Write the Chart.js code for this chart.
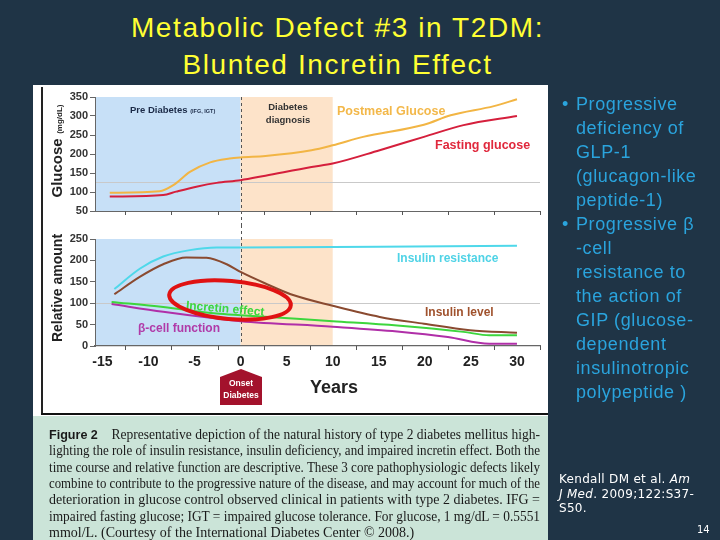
<!DOCTYPE html>
<html><head><meta charset="utf-8">
<script src="https://cdn.jsdelivr.net/npm/chart.js@4.4.0/dist/chart.umd.min.js"></script>
<style>
html,body{margin:0;padding:0;}
body{width:720px;height:540px;background:#1f3446;position:relative;overflow:hidden;font-family:"Liberation Sans",Arial,sans-serif;}
.abs{position:absolute;white-space:nowrap;}
.lbl{position:absolute;white-space:nowrap;font-weight:bold;transform:translateY(-50%);line-height:1;}
#title{position:absolute;left:0;top:9px;width:675px;text-align:center;color:#ffff33;font-size:28px;letter-spacing:1.6px;line-height:37px;}
#panel{position:absolute;left:33px;top:85px;width:515px;height:331px;background:#fff;}
#caption{position:absolute;left:33px;top:416px;width:515px;height:124px;background:#cbe4d8;overflow:hidden;}
.cl{position:absolute;left:16px;white-space:nowrap;font-family:"Liberation Serif","Times New Roman",serif;font-size:14px;color:#1a1a1a;line-height:16px;transform-origin:0 50%;}
.cl b{font-family:"Liberation Sans",Arial,sans-serif;font-size:13px;}
#bul{position:absolute;left:576px;top:92px;color:#2aa4dd;font-size:18px;letter-spacing:0.6px;line-height:24px;}
#bul div{position:relative;white-space:nowrap;}
#bul span.b{position:absolute;left:-14px;}
#cite{position:absolute;left:559px;top:472px;color:#fff;font-family:"DejaVu Sans",Verdana,sans-serif;font-size:12px;letter-spacing:0.3px;line-height:14.5px;}
canvas{position:absolute;}
</style></head><body>
<div id="title">Metabolic Defect #3 in T2DM:<br>Blunted Incretin Effect</div>
<div id="panel"></div>
<div class="abs" style="left:41px;top:87px;width:1.5px;height:327px;background:#222;"></div>
<div class="abs" style="left:41px;top:413px;width:507px;height:2px;background:#111;"></div>
<canvas id="top" width="515" height="140" style="left:33px;top:85px;width:515px;height:140px;"></canvas>
<canvas id="bot" width="515" height="188" style="left:33px;top:225px;width:515px;height:188px;"></canvas>

<!-- axis titles -->
<div class="abs" style="left:57px;top:151px;transform:translate(-50%,-50%) rotate(-90deg);font-weight:bold;color:#222;"><span style="font-size:15px;">Glucose</span> <span style="font-size:8px;">(mg/dL)</span></div>
<div class="abs" style="left:57px;top:288px;transform:translate(-50%,-50%) rotate(-90deg);font-weight:bold;color:#222;font-size:14px;">Relative amount</div>

<!-- top labels -->
<div class="lbl" style="left:130px;top:110px;font-size:9.5px;color:#1c2b48;">Pre Diabetes <span style="font-size:5.5px;">(IFG, IGT)</span></div>
<div class="lbl" style="left:288px;top:113px;font-size:9.5px;color:#333;text-align:center;transform:translate(-50%,-50%);line-height:13px;">Diabetes<br>diagnosis</div>
<div class="lbl" style="left:337px;top:111px;font-size:12.5px;color:#f3b84a;">Postmeal Glucose</div>
<div class="lbl" style="left:435px;top:145px;font-size:12.5px;color:#e0283c;">Fasting glucose</div>
<!-- bottom labels -->
<div class="lbl" style="left:397px;top:258px;font-size:12px;color:#4fd3e6;">Insulin resistance</div>
<div class="lbl" style="left:425px;top:312px;font-size:12px;color:#a0522d;">Insulin level</div>
<div class="lbl" style="left:186px;top:305px;font-size:12px;color:#3dd63d;transform:translateY(-50%) rotate(5deg);transform-origin:0 50%;">Incretin effect</div>
<div class="lbl" style="left:138px;top:328px;font-size:12px;color:#b03aa8;">β-cell function</div>
<div class="lbl" style="left:310px;top:387px;font-size:18px;color:#222;">Years</div>
<div class="abs" style="left:220px;top:369px;width:42px;height:36px;background:#a3122c;clip-path:polygon(50% 0,100% 22%,100% 100%,0 100%,0 22%);"></div>
<div class="abs" style="left:220px;top:377px;width:42px;text-align:center;color:#fff;font-weight:bold;font-size:8.5px;line-height:12px;">Onset<br>Diabetes</div>
<svg class="abs" style="left:0;top:0;" width="720" height="540"><ellipse cx="230" cy="300" rx="61" ry="19" fill="none" stroke="#e01212" stroke-width="4" transform="rotate(5 230 300)"/></svg>

<div id="caption"></div>
<div id="bul">
<div><span class="b">•</span>Progressive</div>
<div>deficiency of</div>
<div>GLP-1</div>
<div>(glucagon-like</div>
<div>peptide-1)</div>
<div><span class="b">•</span>Progressive β</div>
<div>-cell</div>
<div>resistance to</div>
<div>the action of</div>
<div>GIP (glucose-</div>
<div>dependent</div>
<div>insulinotropic</div>
<div>polypeptide )</div>
</div>
<div id="cite">Kendall DM et al. <i>Am</i><br><i>J Med</i>. 2009;122:S37-<br>S50.</div>
<div class="abs" style="left:697px;top:524px;color:#fff;font-family:'DejaVu Sans',sans-serif;font-size:10px;">14</div>

<script>
// ---- data ----
const xTickYears = [-15,-10,-5,0,5,10,15,20,25,30];
const tickMarkYears = [-12.5,-7.5,-2.5,2.5,7.5,12.5,17.5,22.5,27.5,32.5];
const phaseYears = [0, 10]; // diagnosis start / end of diagnosis window
const glucoseThreshold = 126;
const relativeBaseline = 100;

const postmealYears  = [-14.2,-8.8,-7.3,-5.5,-3.3,-1.2,0,2.7,7.7,10,13.3,19.9,22.8,27.5,30];
const postmealValues = [98,102,118,153,178,188,191,195,210,223,245,277,302,326,344];
const fastingYears   = [-14.2,-8.4,-7,-4.8,-2.6,0,2.7,7.7,10,15.1,19.9,24.2,30];
const fastingValues  = [88,92,101,114,124,131,143,166,175,210,245,276,300];

const resistanceYears  = [-13.7,-10.9,-8.4,-5.5,-2.6,0,15,30];
const resistanceValues = [133,181,209,224,230,230,232,234];
const insulinYears  = [-13.7,-10.9,-8.4,-5.9,-3.7,-1.5,0,2.7,5.7,10,15.1,19.9,24.9,30];
const insulinValues = [121,162,191,207,206,191,173,146,119,94,68,52,37,31];
const incretinYears  = [-14,-8.4,-2.6,0,10,17,24.2,27,30];
const incretinValues = [103,91,76,72,58,48,33,25,25];
const betaYears  = [-14,-8.4,-2.6,0,10,17,22.5,27,30];
const betaValues = [98,80,64,58,45,34,21,5,5];

const captionLines = [
 '<b>Figure 2</b>&nbsp;&nbsp;&nbsp; Representative depiction of the natural history of type 2 diabetes mellitus high-',
 'lighting the role of insulin resistance, insulin deficiency, and impaired incretin effect. Both the',
 'time course and relative function are descriptive. These 3 core pathophysiologic defects likely',
 'combine to contribute to the progressive nature of the disease, and may account for much of the',
 'deterioration in glucose control observed clinical in patients with type 2 diabetes. IFG =',
 'impaired fasting glucose; IGT = impaired glucose tolerance. For glucose, 1 mg/dL = 0.5551',
 'mmol/L. (Courtesy of the International Diabetes Center © 2008.)'
];

// caption
const cap = document.getElementById('caption');
captionLines.forEach((t,i)=>{
  const d = document.createElement('div');
  d.className='cl'; d.innerHTML=t; d.style.top=(11+i*16.3)+'px';
  cap.appendChild(d);
  if (i < captionLines.length-1) {
    const w = d.getBoundingClientRect().width;
    d.style.transform = 'scaleX(' + (491/w) + ')';
  }
});

function series(xs, ys){ return xs.map((x,i)=>({x:x, y:ys[i]})); }

const phasePlugin = {
  id:'phases',
  beforeDraw(chart, args, o){
    const {ctx, chartArea:a, scales:{x,y}} = chart;
    const x0 = x.getPixelForValue(phaseYears[0]);
    const x1 = x.getPixelForValue(phaseYears[1]);
    ctx.save();
    ctx.fillStyle = '#c7e0f7';
    ctx.fillRect(a.left+1, a.top, x0-a.left-1, a.bottom-a.top);
    ctx.fillStyle = '#fde3c9';
    ctx.fillRect(x0, a.top, x1-x0, a.bottom-a.top);
    const yr = Math.round(y.getPixelForValue(o.ref))+0.5;
    ctx.strokeStyle = '#c9c9c9'; ctx.lineWidth = 1;
    ctx.beginPath(); ctx.moveTo(a.left, yr); ctx.lineTo(a.right, yr); ctx.stroke();
    ctx.strokeStyle = '#555'; ctx.setLineDash([3,3]);
    const xd = Math.round(x0)+0.5;
    ctx.beginPath();
    ctx.moveTo(xd, o.top ? a.top : 0);
    ctx.lineTo(xd, o.top ? chart.height : a.bottom);
    ctx.stroke();
    ctx.restore();
  },
  afterDraw(chart){
    const {ctx, chartArea:a, scales:{x}} = chart;
    ctx.save(); ctx.strokeStyle='#555'; ctx.lineWidth=1;
    tickMarkYears.forEach(v=>{
      const px = Math.round(x.getPixelForValue(v))+0.5;
      ctx.beginPath(); ctx.moveTo(px, a.bottom); ctx.lineTo(px, a.bottom+4); ctx.stroke();
    });
    ctx.restore();
  }
};

function ds(data, color){
  return {data, borderColor:color, borderWidth:2, pointRadius:0, fill:false, cubicInterpolationMode:'monotone'};
}

function makeChart(id, datasets, ymin, ymax, ref, isTop, xH, padTop){
  return new Chart(document.getElementById(id), {
    type:'line',
    data:{datasets},
    plugins:[phasePlugin],
    options:{
      responsive:false, animation:false, events:[],
      layout:{padding:{left:0,right:8,top:padTop,bottom:0}},
      plugins:{legend:{display:false}, tooltip:{enabled:false}, phases:{ref, top:isTop}},
      scales:{
        x:{type:'linear', min:-15.8, max:32.5,
           afterBuildTicks:(s)=>{ s.ticks = xTickYears.map(v=>({value:v})); },
           afterFit:(s)=>{ s.height = xH; },
           grid:{display:false}, border:{color:'#666', width:isTop?1:1.2},
           ticks:{display:!isTop, padding:0, color:'#222', font:{family:'Liberation Sans', size:14, weight:'bold'}}},
        y:{min:ymin, max:ymax,
           afterFit:(s)=>{ s.width = 62; },
           ticks:{stepSize:50, padding:2, color:'#333', font:{family:'Liberation Sans', size:11, weight:'bold'}},
           grid:{drawOnChartArea:false, color:'#666', tickLength:5}, border:{color:'#666'}}
      }
    }
  });
}

makeChart('top', [
  ds(series(postmealYears, postmealValues), '#f2b544'),
  ds(series(fastingYears, fastingValues), '#d51f3c')
], 50, 350, glucoseThreshold, true, 14, 12);

makeChart('bot', [
  ds(series(resistanceYears, resistanceValues), '#4fd8ea'),
  ds(series(insulinYears, insulinValues), '#8a4a30'),
  ds(series(incretinYears, incretinValues), '#3dd63d'),
  ds(series(betaYears, betaValues), '#b02fa8')
], 0, 250, relativeBaseline, false, 67, 14);
</script>
</body></html>
